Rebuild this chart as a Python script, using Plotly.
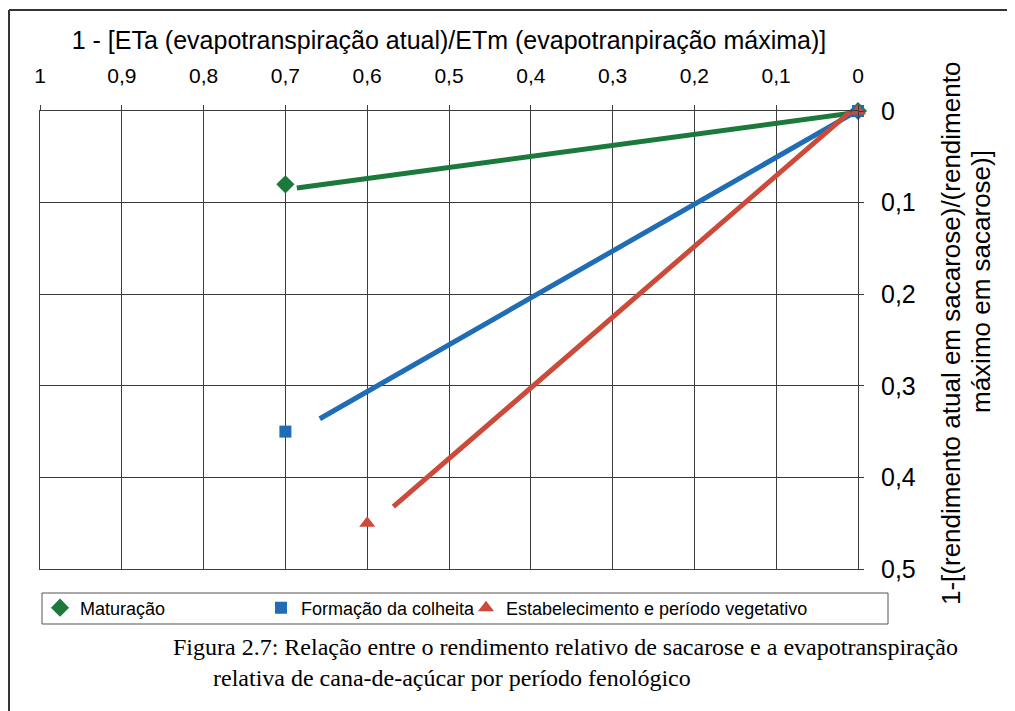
import plotly.graph_objects as go

# pontos observados (1 - ETa/ETm, 1 - Ya/Ym)
mat_x = [0.7, 0.0]
mat_y = [0.08, 0.0]
form_x = [0.7, 0.0]
form_y = [0.35, 0.0]
estab_x = [0.6, 0.0]
estab_y = [0.45, 0.0]

# retas de tendencia
mat_trend_x = [0.686, 0.005]
mat_trend_y = [0.084, 0.002]
form_trend_x = [0.658, 0.003]
form_trend_y = [0.336, 0.001]
estab_trend_x = [0.568, 0.002]
estab_trend_y = [0.432, -0.005]

x_ticks = [1, 0.9, 0.8, 0.7, 0.6, 0.5, 0.4, 0.3, 0.2, 0.1, 0]
y_ticks = [0, 0.1, 0.2, 0.3, 0.4, 0.5]

GREEN = "#1b7a3b"
BLUE = "#1f6db4"
RED = "#cb4a3a"
GRID = "#3c3c3c"
SANS = "Arial, Liberation Sans, sans-serif"
SERIF = "Times New Roman, Liberation Serif, serif"

W, H = 1015, 711
OFF = 8  # margem padrao do <body> na pagina
# area do grafico em pixels de tela
PLOT_L, PLOT_R, PLOT_T, PLOT_B = 40, 858, 111, 569


def px_x(px):
    return (px - PLOT_L) / (PLOT_R - PLOT_L)


def px_y(py):
    return (PLOT_B - py) / (PLOT_B - PLOT_T)


fig = go.Figure()

# linhas
for tx, ty, col in [(mat_trend_x, mat_trend_y, GREEN),
                    (form_trend_x, form_trend_y, BLUE),
                    (estab_trend_x, estab_trend_y, RED)]:
    fig.add_trace(go.Scatter(x=tx, y=ty, mode="lines", showlegend=False,
                             line=dict(color=col, width=5), cliponaxis=False,
                             hoverinfo="skip"))

# marcadores
fig.add_trace(go.Scatter(x=mat_x, y=mat_y, mode="markers", name="Maturação",
                         marker=dict(symbol="diamond", size=14, color=GREEN),
                         cliponaxis=False, legend="legend"))
fig.add_trace(go.Scatter(x=form_x, y=form_y, mode="markers", name="Formação da colheita",
                         marker=dict(symbol="square", size=12, color=BLUE),
                         cliponaxis=False, legend="legend2"))
fig.add_trace(go.Scatter(x=estab_x, y=estab_y, mode="markers",
                         name="Estabelecimento e período vegetativo",
                         marker=dict(symbol="triangle-up", size=14, color=RED),
                         cliponaxis=False, legend="legend3"))

leg_common = dict(y=px_y(608), yanchor="middle", xanchor="left", orientation="h",
                  bgcolor="rgba(0,0,0,0)", borderwidth=0, itemwidth=30,
                  font=dict(family=SANS, size=18, color="black"))

fig.update_layout(
    width=W, height=H,
    margin=dict(l=PLOT_L - OFF, r=W - PLOT_R + OFF, t=PLOT_T - OFF, b=H - PLOT_B + OFF),
    paper_bgcolor="white", plot_bgcolor="white",
    separators=",.",
    font=dict(family=SANS, color="black"),
    legend=dict(x=px_x(40), **leg_common),
    legend2=dict(x=px_x(261), **leg_common),
    legend3=dict(x=px_x(466), **leg_common),
    xaxis=dict(
        side="top", range=[1, 0], tickvals=x_ticks, showgrid=True,
        gridcolor=GRID, gridwidth=1, showline=True, linecolor=GRID, linewidth=1,
        mirror=True, ticks="outside", ticklen=5, tickcolor=GRID,
        tickfont=dict(size=21), ticklabelstandoff=14, zeroline=False,
        title=dict(text="1 - [ETa (evapotranspiração atual)/ETm (evapotranpiração máxima)]",
                   font=dict(size=25), standoff=6),
    ),
    yaxis=dict(
        side="right", range=[0.5, 0], tickvals=y_ticks, showgrid=True,
        gridcolor=GRID, gridwidth=1, showline=True, linecolor=GRID, linewidth=1,
        mirror=True, ticks="outside", ticklen=5, tickcolor=GRID,
        tickfont=dict(size=25), ticklabelstandoff=12, zeroline=False,
    ),
)

# titulo do eixo y (duas linhas, rotacionado)
fig.add_annotation(text="1-[(rendimento atual em sacarose)/(rendimento",
                   xref="paper", yref="paper", x=px_x(968), y=px_y(333),
                   textangle=-90, showarrow=False, font=dict(size=26))
fig.add_annotation(text="máximo em sacarose)]",
                   xref="paper", yref="paper", x=px_x(998), y=px_y(282),
                   textangle=-90, showarrow=False, font=dict(size=26))

# caixa da legenda
fig.add_shape(type="rect", xref="paper", yref="paper",
              x0=px_x(42), x1=px_x(888), y0=px_y(593), y1=px_y(624),
              line=dict(color="#555", width=1))

# moldura externa
fig.add_shape(type="line", xref="paper", yref="paper",
              x0=px_x(9), x1=px_x(W + OFF), y0=px_y(10), y1=px_y(10),
              line=dict(color="#333", width=2))
fig.add_shape(type="line", xref="paper", yref="paper",
              x0=px_x(9), x1=px_x(9), y0=px_y(10), y1=px_y(H + OFF),
              line=dict(color="#333", width=2))

# legenda da figura
fig.add_annotation(text="Figura 2.7: Relação entre o rendimento relativo de sacarose e a evapotranspiração",
                   xref="paper", yref="paper", x=px_x(565), y=px_y(662),
                   showarrow=False, font=dict(family=SERIF, size=24))
fig.add_annotation(text="relativa de cana-de-açúcar por período fenológico",
                   xref="paper", yref="paper", x=px_x(452), y=px_y(693),
                   showarrow=False, font=dict(family=SERIF, size=24))

fig.write_html("out.html")
